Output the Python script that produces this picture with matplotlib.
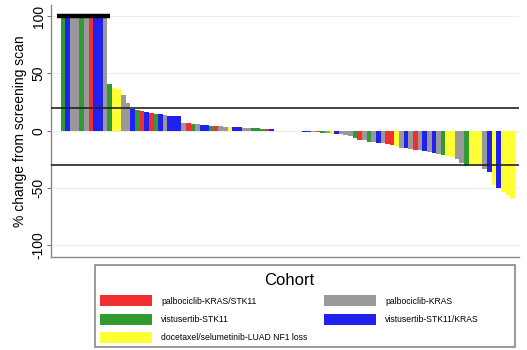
import matplotlib
matplotlib.use('Agg')
import matplotlib.pyplot as plt
import matplotlib.patches as mpatches
import numpy as np

plt.rcParams['font.family'] = ['Liberation Sans', 'DejaVu Sans']

# cohort codes: R = palbociclib-KRAS/STK11, G = vistusertib-STK11,
# Y = docetaxel/selumetinib-LUAD NF1 loss, S = palbociclib-KRAS, B = vistusertib-STK11/KRAS
cohort_names = {
    'R': 'palbociclib-KRAS/STK11',
    'G': 'vistusertib-STK11',
    'Y': 'docetaxel/selumetinib-LUAD NF1 loss',
    'S': 'palbociclib-KRAS',
    'B': 'vistusertib-STK11/KRAS',
}
cohort_colors = {'R': '#f03030', 'G': '#339933', 'Y': '#ffff33',
                 'S': '#999999', 'B': '#2020f0'}
legend_order = ['R', 'G', 'Y', 'S', 'B']

pct_change = [
    100, 100, 100, 100, 100, 100, 100, 100, 100, 100,
    41, 37, 36, 31, 24, 19, 18, 17, 16.5, 15.5,
    15, 14.5, 14, 13, 13, 13, 7, 7, 6, 5.5,
    5, 5, 4.5, 4, 4, 3.5, 3.5, 3, 3, 2.5,
    2.5, 2, 2, 1.5, 1.5, 1.5, 0, 0, 0, 0,
    0, 0, -1, -1, -1.2, -1.5, -2, -2, -2.5, -2.5,
    -3, -4, -5, -6, -8, -8.5, -10, -10, -10.5, -11,
    -12, -12.5, -13, -15, -15, -16, -16.5, -17, -18, -18.5,
    -19, -20, -21, -22, -23, -25, -28, -31, -29, -30,
    -31, -33, -36, -47, -50, -53, -56, -59,
]
cohort = list(
    'GBSSGSRBBS'
    'GYYSSBGRBR'
    'GBSBBBSRGS'
    'BBGRSSYBBS'
    'SGGGRBSSSS'
    'SSBBSRGSYB'
    'SSSGRSGSBS'
    'RRYSBSRSBS'
    'BSGYYSSGYY'
    'YSBYBYYY'
)

capped_line = 100
ref_upper = 20
ref_lower = -30

fig = plt.figure(figsize=(5.27, 3.5), dpi=100)
ax = fig.add_axes([0.097, 0.266, 0.888, 0.721])

x = np.arange(len(pct_change))
ax.bar(x, pct_change, width=1.0, color=[cohort_colors[c] for c in cohort],
       linewidth=0, zorder=2)

ax.axhline(ref_upper, color='#222222', lw=1.2, zorder=3)
ax.axhline(ref_lower, color='#222222', lw=1.2, zorder=3)
n_capped = sum(1 for v in pct_change if v >= capped_line)
ax.plot([-1.3, n_capped + 0.2], [capped_line, capped_line], color='black',
        lw=3.2, solid_capstyle='butt', zorder=4)

ax.set_xlim(-2.6, len(pct_change) + 0.4)
ax.set_ylim(-110, 110)
ax.set_yticks([-100, -50, 0, 50, 100])
ax.set_yticklabels(['-100', '-50', '0', '50', '100'], rotation=90, va='center')
ax.tick_params(axis='y', labelsize=10, length=3, color='#777777', pad=1)
ax.set_xticks([])
ax.grid(axis='y', color='#ececec', lw=0.8, zorder=0)
ax.set_ylabel('% change from screening scan', fontsize=10, labelpad=3)

for side in ['top', 'right']:
    ax.spines[side].set_visible(False)
for side in ['left', 'bottom']:
    ax.spines[side].set_color('#888888')
    ax.spines[side].set_linewidth(1.0)

handles = [mpatches.Patch(facecolor=cohort_colors[k], edgecolor='none',
                          label=cohort_names[k]) for k in legend_order]
leg = fig.legend(handles=handles, ncol=2, loc='upper left',
                 bbox_to_anchor=(100 / 527, 1 - 273 / 350),
                 title='Cohort', title_fontsize=12, fontsize=6.2,
                 handlelength=6.0, handleheight=1.6, handletextpad=1.1,
                 labelspacing=0.85, columnspacing=1.9, borderpad=0,
                 borderaxespad=0, frameon=False)

# outer box around the legend
fig.patches.append(mpatches.Rectangle((95 / 527, 3 / 350), 420 / 527, 82 / 350,
                                      transform=fig.transFigure, fill=False,
                                      edgecolor='#888888', lw=1.2))

fig.savefig('out.png', dpi=100)
